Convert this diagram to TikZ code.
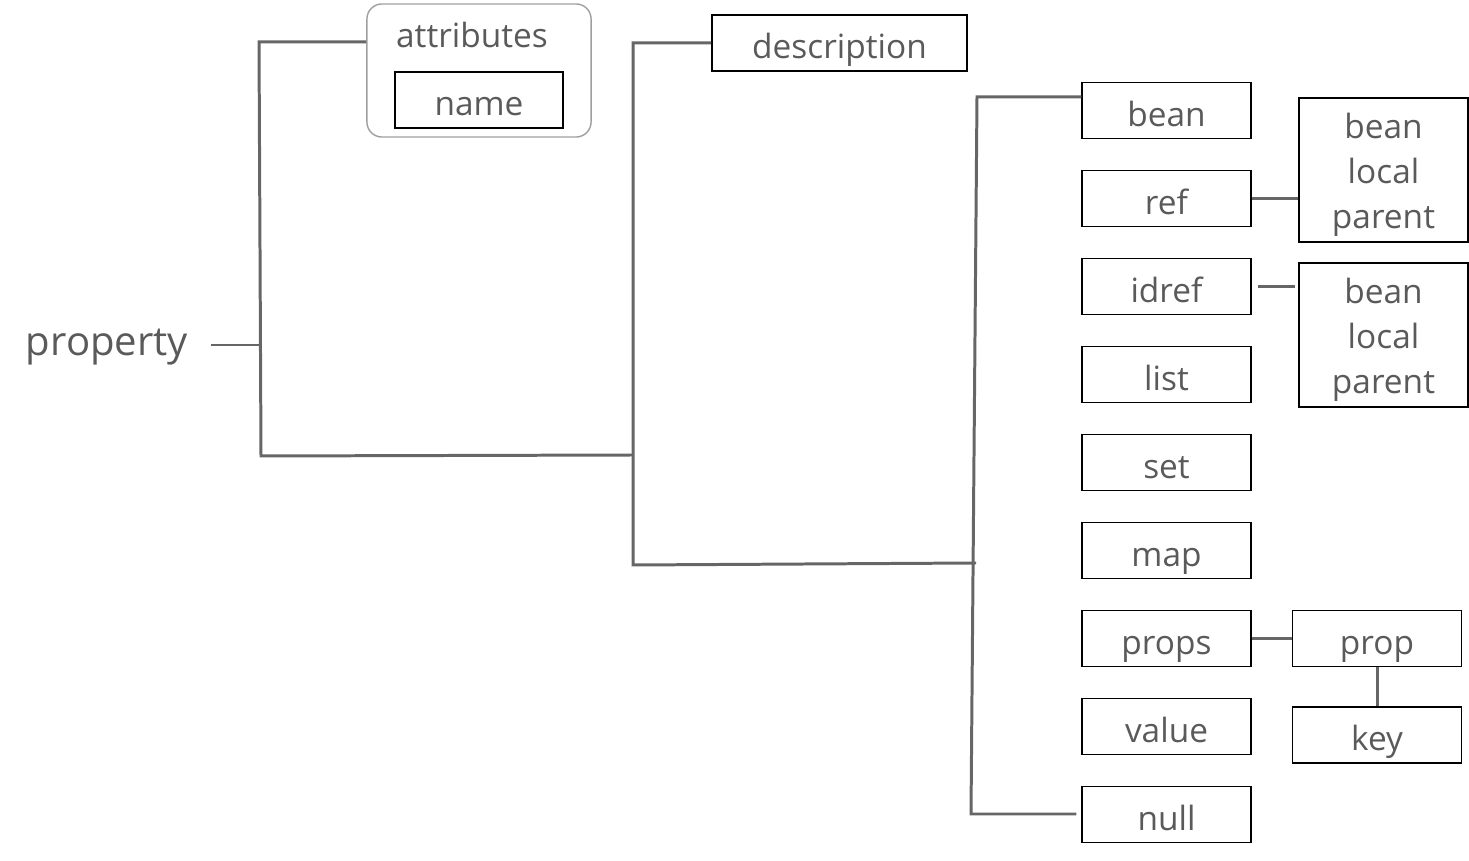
\documentclass[tikz,border=0pt]{standalone}
\usepackage{fontspec}
\setmainfont{Open Sans}
\usepackage{tikz}
\usetikzlibrary{positioning}
\definecolor{txtgray}{HTML}{5A5A5A}
\definecolor{linegray}{HTML}{666666}
\tikzset{
  box/.style={draw=black, line width=0.4pt, minimum width=1.69cm, minimum height=0.56cm,
    inner sep=0pt, text=txtgray, font=\fontsize{9.5}{12.7}\selectfont,
    text height=1.1em, text depth=0.2em},
  grpbox/.style={draw=black, line width=0.4pt, minimum width=1.69cm, minimum height=1.44cm,
    inner sep=0pt, align=center, text=txtgray, font=\fontsize{9.5}{12.7}\selectfont},
  lbl/.style={inner sep=0pt, text=txtgray, font=\fontsize{9.5}{12.7}\selectfont,
    text height=1.1em, text depth=0.2em},
  link/.style={draw=linegray, line width=0.85pt},
}
\newcommand{\grptext}{\rule{0pt}{10pt}bean\\local\\parent}

\begin{document}
\begin{tikzpicture}[x=0.01cm, y=-0.01cm]
  \useasboundingbox (0,0) rectangle (1469,861);

  % root and attributes
  \node[inner sep=0pt, text=txtgray, font=\fontsize{11.4}{13}\selectfont,
    text height=0.75em, text depth=0.25em] (property) at (107,347) {property};
  \node[draw=gray!75, line width=0.4pt, rounded corners=0.15cm,
    minimum width=2.24cm, minimum height=1.33cm] (attr) at (479,70.5) {};
  \node[lbl] (attrlabel) at (472,32) {attributes};
  \node[box, minimum width=1.68cm] (name) at (479,100) {name};

  \node[box, minimum width=2.55cm] (description) at (839.5,43) {description};

  % element column
  \foreach \n [count=\i from 0] in {bean,ref,idref,list,set,map,props,value,null}
    \node[box] (\n) at (1166.5,{110.5+88*\i}) {\n};

  \node[grpbox] (refgrp) at (1383.5,170) {\grptext};
  \node[grpbox] (idrefgrp) at (1383.5,335) {\grptext};
  \node[box, right=0.4cm of props] (prop) {prop};
  \node[box, below=0.39cm of prop] (key) {key};

  % joints of the brackets
  \coordinate (j1t) at (259,42);
  \coordinate (j1m) at (260,345);
  \coordinate (j1b) at (261,456);
  \coordinate (j2t) at (633,43);
  \coordinate (j2m) at (633,455);
  \coordinate (j2b) at (633,565);
  \coordinate (j3t) at (977,97);
  \coordinate (j3m) at (976,563);
  \coordinate (j3b) at (971,814);

  \draw[link] ([xshift=0.22cm]property.east |- j1m) -- (j1m);
  \draw[link] (attr.west |- j1t) -- (j1t) -- (j1b) -- (j2m);
  \draw[link] (description.west) -- (j2t) -- (j2b) -- (j3m);
  \draw[link] (bean.west |- j3t) -- (j3t) -- (j3b) -- ([xshift=-0.05cm]null.west |- j3b);

  \draw[link] (ref.east) -- (ref.east -| refgrp.west);
  \draw[link] ([xshift=0.06cm]idref.east) -- ([xshift=-0.03cm]idref.east -| idrefgrp.west);
  \draw[link] (props.east) -- (prop.west);
  \draw[link] (prop.south) -- (key.north);
\end{tikzpicture}
\end{document}
